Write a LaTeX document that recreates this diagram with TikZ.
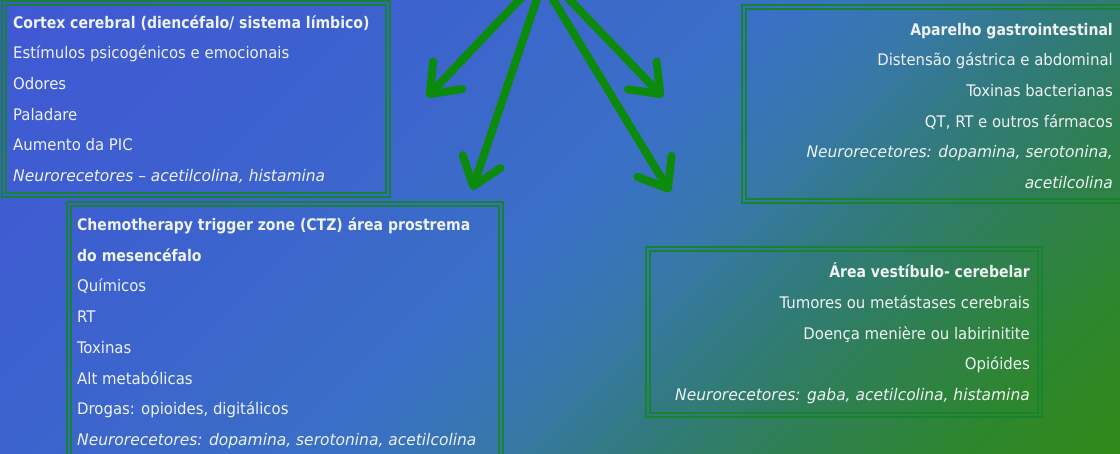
\documentclass[tikz,border=0pt]{standalone}
\usepackage{fontspec}
\setmainfont{DejaVu Sans Condensed}[UprightFeatures={FakeStretch=1.035}, BoldFeatures={FakeStretch=0.975}, ItalicFeatures={FakeStretch=1.075}]
\usetikzlibrary{arrows.meta,calc}
\definecolor{bgA}{RGB}{64,88,212}
\definecolor{bgB}{RGB}{61,97,207}
\definecolor{bgC}{RGB}{58,112,198}
\definecolor{bgD}{RGB}{55,120,168}
\definecolor{bgE}{RGB}{50,122,128}
\definecolor{bgF}{RGB}{47,127,85}
\definecolor{bgG}{RGB}{46,134,45}
\definecolor{bgH}{RGB}{48,138,25}
\definecolor{bord}{RGB}{22,132,46}
\definecolor{arrgreen}{RGB}{12,138,12}
\definecolor{txtcol}{RGB}{238,242,242}
\pgfdeclarehorizontalshading{bgshade}{100bp}{color(0bp)=(bgA); color(14.6bp)=(bgA); color(27bp)=(bgB); color(39.45bp)=(bgC); color(44.4bp)=(bgD); color(48.4bp)=(bgE); color(53.4bp)=(bgF); color(59.3bp)=(bgG); color(64.3bp)=(bgH); color(100bp)=(bgH)}
\begin{document}
\begin{tikzpicture}[x=1pt,y=-1pt,
  box/.style={draw=bord, line width=1.7pt, inner sep=0pt, outer sep=0pt, anchor=north west},
  boxline/.style={draw=bord, line width=1.7pt},
  txtl/.style={text=txtcol, font=\fontsize{16}{19}\selectfont, inner sep=0pt, anchor=base west},
  txtr/.style={text=txtcol, font=\fontsize{16}{19}\selectfont, inner sep=0pt, anchor=base east},
  arr/.style={draw=arrgreen, line width=8pt, line cap=round, -{Straight Barb[length=26pt, width=40pt, round]}}]
\useasboundingbox (0,0) rectangle (1120,453);
\clip (0,0) rectangle (1120,453);
\shade[shading=bgshade, shading angle=-45] (0,0) rectangle (1120,1120);

% boxes
\node[box, minimum width=388pt, minimum height=196pt] (b1) at (2,1) {};
\node[box, minimum width=436pt, minimum height=270pt] (b2) at (67,202) {};
\node[box, minimum width=400pt, minimum height=198pt] (b3) at (742,5) {};
\node[box, minimum width=396pt, minimum height=170pt] (b4) at (646,247) {};
\foreach \b in {b1,b2,b3,b4}
  \draw[boxline] ($(\b.north west)+(4,4)$) rectangle ($(\b.south east)+(-4,-4)$);

% box 1 text
\foreach \t [count=\i] in {{\bfseries Cortex cerebral (diencéfalo/ sistema límbico)},
  {Estímulos psicogénicos e emocionais}, {Odores}, {Paladare}, {Aumento da PIC},
  {\itshape Neurorecetores – acetilcolina, histamina}}
  \node[txtl] (b1l\i) at (13,{28+30.7*(\i-1)}) {\t};

% box 2 text
\foreach \t [count=\i] in {{\bfseries Chemotherapy trigger zone (CTZ) área prostrema},
  {\bfseries do mesencéfalo}, {Químicos}, {RT}, {Toxinas}, {Alt metabólicas},
  {Drogas: opioides, digitálicos},
  {\itshape Neurorecetores: dopamina, serotonina, acetilcolina}}
  \node[txtl] (b2l\i) at (77,{230.5+30.7*(\i-1)}) {\t};

% box 3 text
\foreach \t [count=\i] in {{\bfseries Aparelho gastrointestinal},
  {Distensão gástrica e abdominal}, {Toxinas bacterianas}, {QT, RT e outros fármacos},
  {\itshape Neurorecetores: dopamina, serotonina,}, {\itshape acetilcolina}}
  \node[txtr] (b3l\i) at (1113,{35+30.7*(\i-1)}) {\t};

% box 4 text
\foreach \t [count=\i] in {{\bfseries Área vestíbulo- cerebelar},
  {Tumores ou metástases cerebrais}, {Doença menière ou labirinitite}, {Opióides},
  {\itshape Neurorecetores: gaba, acetilcolina, histamina}}
  \node[txtr] (b4l\i) at (1030,{277.7+30.75*(\i-1)}) {\t};

% arrows
\coordinate (s1) at (523,-4);
\coordinate (s2) at (538,-4);
\coordinate (s3) at (551,-4);
\coordinate (s4) at (567,-3);
\coordinate (t1) at (427,97);
\coordinate (t2) at (472,190);
\coordinate (t3) at (670,192);
\coordinate (t4) at (663,97);
\draw[arr] (s1) -- (t1);
\draw[arr] (s2) -- (t2);
\draw[arr] (s3) -- (t3);
\draw[arr] (s4) -- (t4);
\end{tikzpicture}
\end{document}
